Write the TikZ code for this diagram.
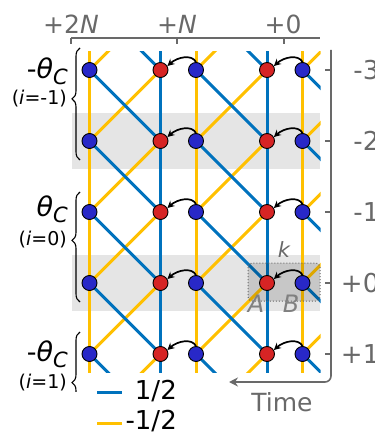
\documentclass[tikz,border=0pt]{standalone}
\usepackage{fontspec}
\setmainfont{DejaVu Sans}
\usetikzlibrary{arrows.meta,decorations.pathreplacing}
\definecolor{lineblue}{RGB}{0,114,189}
\definecolor{lineyellow}{RGB}{255,192,0}
\definecolor{dotblue}{RGB}{40,40,200}
\definecolor{dotred}{RGB}{214,36,36}
\definecolor{axgray}{RGB}{105,105,105}
\definecolor{bandgray}{RGB}{229,229,229}
\pgfdeclarelayer{back}
\pgfdeclarelayer{lines}
\pgfdeclarelayer{mid}
\pgfsetlayers{back,lines,mid,main}
\newcommand{\fs}[1]{\fontsize{#1}{#1}\selectfont}
\begin{document}
\begin{tikzpicture}[x=1pt,y=-1pt,
  bl/.style={lineblue,line width=3pt},
  yl/.style={lineyellow,line width=3pt},
  dotbase/.style={circle,draw=black,line width=0.9pt,minimum size=15pt,inner sep=0pt},
  bdot/.style={dotbase,fill=dotblue},
  rdot/.style={dotbase,fill=dotred},
  hop/.style={-{Stealth[length=7pt,width=7pt]},line width=1.7pt,black},
  axline/.style={axgray,line width=1.6pt},
  graytxt/.style={text=axgray,inner sep=0pt},
  blacktxt/.style={text=black,inner sep=0pt},
  bracestyle/.style={decorate,line width=1.1pt,black},
  band/.style={fill=bandgray}]
\useasboundingbox (0,0) rectangle (374,438);

% dots
\foreach \i/\y in {0/70,1/141,2/212,3/283,4/354}{
  \node[bdot] (b0-\i) at (89.5,\y) {};
  \node[rdot] (r2-\i) at (160.5,\y) {};
  \node[bdot] (b3-\i) at (196,\y) {};
  \node[rdot] (r5-\i) at (267,\y) {};
  \node[bdot] (b6-\i) at (302.5,\y) {};
}

% background bands
\begin{pgfonlayer}{back}
  \fill[band] (72,113) rectangle (320,169);
  \fill[band] (72,255) rectangle (320,311);
\end{pgfonlayer}

% lines
\begin{pgfonlayer}{lines}
  \clip (60,52) rectangle (320.5,372);
  \foreach \c/\x in {0/89.5,2/160.5,3/196,5/267,6/302.5}{
    \coordinate (top-\c) at (\x,48);
    \coordinate (bot-\c) at (\x,376);
  }
  \draw[yl] (top-0) -- (bot-0);
  \draw[yl] (top-3) -- (bot-3);
  \draw[yl] (top-6) -- (bot-6);
  \draw[bl] (top-2) -- (bot-2);
  \draw[bl] (top-5) -- (bot-5);
  \foreach \i/\j in {0/1,1/2,2/3,3/4}{
    \draw[yl] (b0-\j.center) -- (r2-\i.center);
    \draw[yl] (b3-\j.center) -- (r5-\i.center);
    \draw[bl] (b0-\i.center) -- (r2-\j.center);
    \draw[bl] (b3-\i.center) -- (r5-\j.center);
  }
  \foreach \i in {0,...,4}{
    \path (b6-\i.center) ++(24,-24) coordinate (b6u-\i);
    \path (b6-\i.center) ++(24,24) coordinate (b6d-\i);
    \draw[yl] (b6-\i.center) -- (b6u-\i);
    \draw[bl] (b6-\i.center) -- (b6d-\i);
  }
  \path (b0-0.center) ++(24,-24) coordinate (tb0);
  \path (b3-0.center) ++(24,-24) coordinate (tb3);
  \path (r2-0.center) ++(-24,-24) coordinate (tr2);
  \path (r5-0.center) ++(-24,-24) coordinate (tr5);
  \draw[yl] (b0-0.center) -- (tb0);
  \draw[yl] (b3-0.center) -- (tb3);
  \draw[bl] (tr2) -- (r2-0.center);
  \draw[bl] (tr5) -- (r5-0.center);
  \path (b0-4.center) ++(24,24) coordinate (db0);
  \path (b3-4.center) ++(24,24) coordinate (db3);
  \path (r2-4.center) ++(-24,24) coordinate (dr2);
  \path (r5-4.center) ++(-24,24) coordinate (dr5);
  \draw[bl] (b0-4.center) -- (db0);
  \draw[bl] (b3-4.center) -- (db3);
  \draw[yl] (dr2) -- (r2-4.center);
  \draw[yl] (dr5) -- (r5-4.center);
\end{pgfonlayer}

% k box
\begin{pgfonlayer}{mid}
  \draw[rounded corners=4pt,dotted,line width=1pt,draw=axgray,fill=black,fill opacity=0.13]
    (248,263) rectangle (320,301);
\end{pgfonlayer}
\node[graytxt,font=\fs{21}\itshape] (klab) at (284,250) {k};
\node[graytxt,text=axgray!85,font=\fs{24}\itshape] (alab) at (256,304) {A};
\node[graytxt,text=axgray!85,font=\fs{24}\itshape] (blab) at (291,304) {B};

% hop arrows
\foreach \i in {0,...,4}{
  \draw[hop] (b3-\i.north) .. controls +(-4,-8) and +(10,-9) .. (r2-\i.30);
  \draw[hop] (b6-\i.north) .. controls +(-4,-8) and +(10,-9) .. (r5-\i.30);
}

% top axis
\coordinate (tax0) at (71,38);
\coordinate (tax1) at (320,38);
\draw[axline] (tax0) -- (tax1);
\foreach \x/\n in {71/a,177/b,284/c}{
  \coordinate (tk-\n) at (\x,38);
  \coordinate (tke-\n) at (\x,44);
  \draw[axline] (tk-\n) -- (tke-\n);
}
\node[graytxt,font=\fs{25}] (l2n) at (71,24) {+2\textit{N}};
\node[graytxt,font=\fs{25}] (l1n) at (177,24) {+\textit{N}};
\node[graytxt,font=\fs{25}] (l0n) at (283,24) {+0};

% right axis (time)
\coordinate (ra0) at (331,50);
\coordinate (ra1) at (331,382);
\coordinate (ra2) at (229,382);
\draw[axline,rounded corners=6pt,-{Stealth[length=9pt,width=9pt]}] (ra0) -- (ra1) -- (ra2);
\foreach \i/\y/\t in {0/70/-3,1/141/-2,2/212/-1,3/283/+0,4/354/+1}{
  \coordinate (rt-\i) at (325,\y);
  \coordinate (rte-\i) at (331,\y);
  \draw[axline] (rt-\i) -- (rte-\i);
  \node[graytxt,font=\fs{26},anchor=east] (rl-\i) at (379.5,\y) {\t};
}
\node[graytxt,font=\fs{25}] (time) at (282,402) {Time};

% left braces and labels
\draw[bracestyle,decoration={brace,amplitude=8pt,aspect=0.545}] (80,160) -- (80,48);
\draw[bracestyle,decoration={brace,amplitude=8pt,aspect=0.56}] (80,302) -- (80,192);
\begin{scope}
  \clip (60,320) rectangle (100,391);
  \draw[bracestyle,decoration={brace,amplitude=8pt,aspect=0.54}] (80,442) -- (80,332);
\end{scope}
\foreach \n/\y/\s/\iy/\iv in {a/71/-/99/-1,b/209//240/0,c/354/-/383/1}{
  \node[blacktxt,anchor=east,font=\fs{27}] (th-\n) at (68,\y)
    {\s\textit{θ}\raisebox{-6pt}{\fs{21}\textit{C}}};
  \node[blacktxt,anchor=east,font=\fs{19}] (iv-\n) at (67,\iy) {(\textit{i}=\iv)};
}

% legend
\coordinate (lg0) at (97,392);
\coordinate (lg1) at (122,392);
\coordinate (lg2) at (97,423);
\coordinate (lg3) at (122,423);
\draw[bl] (lg0) -- (lg1);
\draw[yl] (lg2) -- (lg3);
\node[blacktxt,anchor=east,font=\fs{26}] (lt0) at (177,391) {1/2};
\node[blacktxt,anchor=east,font=\fs{26}] (lt1) at (177,421) {-1/2};
\end{tikzpicture}
\end{document}
